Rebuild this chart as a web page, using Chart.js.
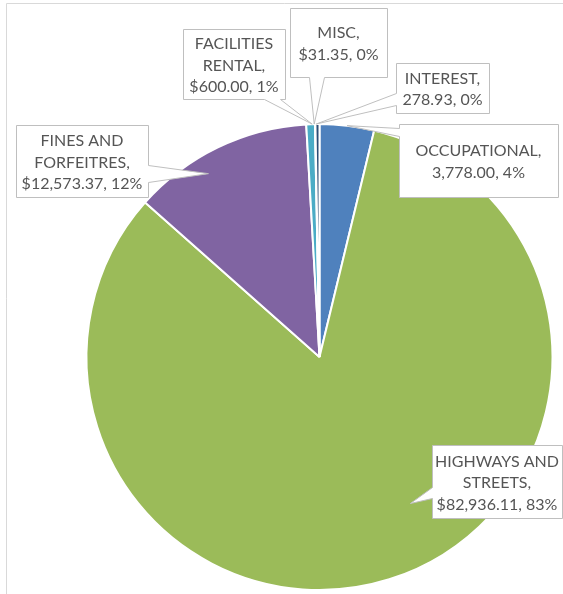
<!DOCTYPE html>
<html>
<head>
<meta charset="utf-8">
<script src="https://cdn.jsdelivr.net/npm/chart.js@4/dist/chart.umd.min.js"></script>
<style>
  html, body { margin: 0; padding: 0; background: #ffffff; }
  #wrap { position: relative; width: 563px; height: 594px; }
</style>
</head>
<body>
<div id="wrap"><canvas id="c" width="563" height="594"></canvas></div>
<script>
// ---- data ----
const categories = ['OCCUPATIONAL', 'HIGHWAYS AND STREETS', 'FINES AND FORFEITRES', 'FACILITIES RENTAL', 'MISC', 'INTEREST'];
const values = [3778.00, 82936.11, 12573.37, 600.00, 31.35, 278.93];
const valueLabels = ['3,778.00', '$82,936.11', '$12,573.37', '$600.00', '$31.35', '278.93'];
const percentLabels = ['4%', '83%', '12%', '1%', '0%', '0%'];
const colors = ['#4F81BD', '#9BBB59', '#8064A2', '#4BACC6', '#F79646', '#2C4D75'];

// ---- callout layout (box rect, wedge side/base, tip in polar coords relative to the arc) ----
const callouts = [
  { box: [399, 124, 558, 197], side: 'left',   base: [128, 136], tipDeg: 6.8,   tipR: 1.0 },
  { box: [432, 445, 562, 518], side: 'left',   base: [487, 498], tipDeg: 148.2, tipR: 0.74 },
  { box: [16, 125, 148, 197],  side: 'right',  base: [165, 182], tipDeg: -31.2, tipR: 0.92 },
  { box: [183, 29, 285, 99],   side: 'bottom', base: [264, 280], tipDeg: -1.8,  tipR: 1.0 },
  { box: [290, 8, 387, 77],    side: 'bottom', base: [309, 324], tipDeg: -1.3,  tipR: 1.0 },
  { box: [396, 63, 489, 113],  side: 'left',   base: [93, 105],  tipDeg: -0.8,  tipR: 1.0 }
];

const FONT = '16px Lato, "Open Sans", sans-serif';
const TEXT_COLOR = '#555555';
const LINE_COLOR = '#BFBFBF';
const LINE_H = 21.5;

function wrapWords(ctx, text, maxW) {
  const words = text.split(' ');
  const lines = [];
  let cur = '';
  words.forEach(w => {
    const t = cur ? cur + ' ' + w : w;
    if (cur && ctx.measureText(t).width > maxW) { lines.push(cur); cur = w; }
    else cur = t;
  });
  if (cur) lines.push(cur);
  return lines;
}

const calloutPlugin = {
  id: 'callouts',
  afterDraw(chart) {
    const ctx = chart.ctx;
    const meta = chart.getDatasetMeta(0);
    ctx.save();
    // frame
    ctx.strokeStyle = '#D9D9D9';
    ctx.lineWidth = 1;
    ctx.beginPath();
    ctx.moveTo(6.5, 594);
    ctx.lineTo(6.5, 3.5);
    ctx.lineTo(563, 3.5);
    ctx.stroke();

    ctx.font = FONT;
    meta.data.forEach((arc, i) => {
      const c = callouts[i];
      if (!c) return;
      const cx = arc.x, cy = arc.y, R = arc.outerRadius;
      const a = c.tipDeg * Math.PI / 180;
      const tx = cx + R * c.tipR * Math.sin(a);
      const ty = cy - R * c.tipR * Math.cos(a);
      const [x1, y1, x2, y2] = c.box.map(v => v + 0.5);
      const b0 = c.base[0] + 0.5, b1 = c.base[1] + 0.5;
      ctx.beginPath();
      ctx.moveTo(x1, y1);
      ctx.lineTo(x2, y1);
      if (c.side === 'right') { ctx.lineTo(x2, b0); ctx.lineTo(tx, ty); ctx.lineTo(x2, b1); }
      ctx.lineTo(x2, y2);
      if (c.side === 'bottom') { ctx.lineTo(b1, y2); ctx.lineTo(tx, ty); ctx.lineTo(b0, y2); }
      ctx.lineTo(x1, y2);
      if (c.side === 'left') { ctx.lineTo(x1, b1); ctx.lineTo(tx, ty); ctx.lineTo(x1, b0); }
      ctx.closePath();
      ctx.fillStyle = '#ffffff';
      ctx.fill();
      ctx.strokeStyle = LINE_COLOR;
      ctx.lineWidth = 1;
      ctx.stroke();

      const lab = chart.data.labels[i];
      const nameLines = wrapWords(ctx, lab + ',', (c.box[2] - c.box[0]));
      const lines = nameLines.concat([valueLabels[i] + ', ' + percentLabels[i]]);
      const midX = (c.box[0] + c.box[2]) / 2;
      const midY = (c.box[1] + c.box[3]) / 2 + 1.5;
      ctx.fillStyle = TEXT_COLOR;
      ctx.textAlign = 'center';
      ctx.textBaseline = 'middle';
      lines.forEach((ln, k) => {
        ctx.fillText(ln, midX, midY + (k - (lines.length - 1) / 2) * LINE_H);
      });
    });
    ctx.restore();
  }
};

new Chart(document.getElementById('c'), {
  type: 'pie',
  data: {
    labels: categories,
    datasets: [{
      data: values,
      backgroundColor: colors,
      borderColor: '#ffffff',
      borderWidth: 2
    }]
  },
  options: {
    responsive: false,
    animation: false,
    layout: { padding: { left: 85, top: 123, right: 9, bottom: 3 } },
    plugins: { legend: { display: false }, tooltip: { enabled: false } }
  },
  plugins: [calloutPlugin]
});
</script>
</body>
</html>
